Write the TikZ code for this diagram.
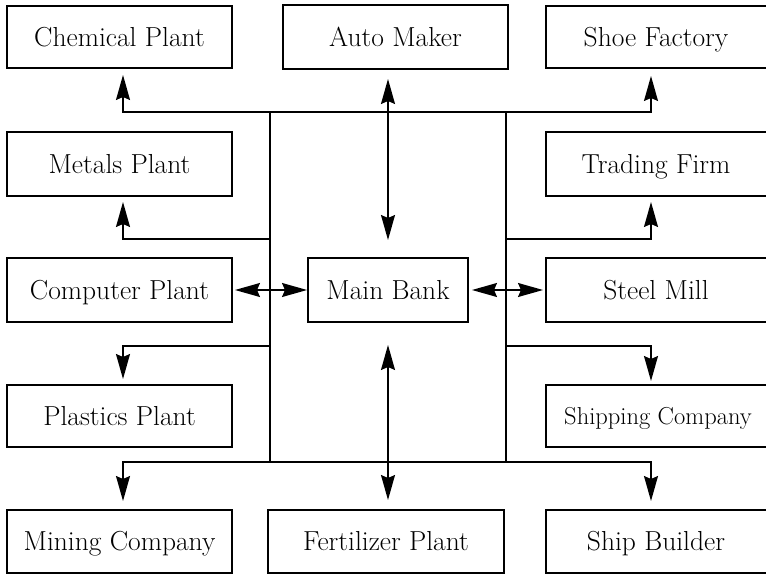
\documentclass[tikz,border=0pt]{standalone}
\usetikzlibrary{arrows.meta}
\begin{document}
\begin{tikzpicture}[x=1pt,y=-1pt,
  box/.style={draw,line width=1.5pt,inner sep=0pt,outer sep=0pt,font=\fontsize{27.5}{32}\selectfont,text height=18.5pt,text depth=0pt},
  lbl/.style={inner sep=0pt,font=\fontsize{27.5}{32}\selectfont,text height=18.5pt,text depth=0pt},
  ln/.style={line width=1.5pt},
  tip/.tip={Stealth[length=25pt,width=14pt,inset=3pt]},
  arr/.style={line width=1.5pt,-tip},
  darr/.style={line width=1.5pt,tip-tip}]
\useasboundingbox (0,0) rectangle (766,575);
% boxes
\node[box,minimum width=225pt,minimum height=62pt] (chem) at (119.5,37) {Chemical Plant};
\node[box,minimum width=225pt,minimum height=64pt] (auto) at (395.5,37) {Auto Maker};
\node[box,minimum width=230pt,minimum height=62pt] (shoe) at (661,37) {};
\node[lbl] (shoet) at (656,37) {Shoe Factory};
\node[box,minimum width=225pt,minimum height=64pt] (metal) at (119.5,164) {Metals Plant};
\node[box,minimum width=230pt,minimum height=64pt] (trade) at (661,164) {};
\node[lbl] (tradet) at (656,164) {Trading Firm};
\node[box,minimum width=225pt,minimum height=64pt] (comp) at (119.5,290) {Computer Plant};
\node[box,minimum width=160pt,minimum height=64pt] (bank) at (388,290) {Main Bank};
\node[box,minimum width=230pt,minimum height=64pt] (steel) at (661,290) {};
\node[lbl] (steelt) at (656,290) {Steel Mill};
\node[box,minimum width=225pt,minimum height=62pt] (plas) at (119.5,416) {Plastics Plant};
\node[box,minimum width=230pt,minimum height=62pt] (ship) at (661,416) {};
\node[lbl,font=\fontsize{24.5}{28}\selectfont,text height=16.5pt] (shipt) at (658,416) {Shipping Company};
\node[box,minimum width=225pt,minimum height=63pt] (mine) at (119.5,541.5) {Mining Company};
\node[box,minimum width=236pt,minimum height=63pt] (fert) at (386,541.5) {Fertilizer Plant};
\node[box,minimum width=230pt,minimum height=63pt] (build) at (661,541.5) {};
\node[lbl] (buildt) at (656,541.5) {Ship Builder};
% bus
\coordinate (TL) at (270,112);
\coordinate (TR) at (506,112);
\coordinate (BL) at (270,462);
\coordinate (BR) at (506,462);
\coordinate (ML1) at (270,239);
\coordinate (MR1) at (506,239);
\coordinate (ML2) at (270,346);
\coordinate (MR2) at (506,346);
\draw[ln] (TL) -- (BL);
\draw[ln] (TR) -- (BR);
\draw[ln] (TL) -- (TR);
\draw[ln] (BL) -- (BR);
\draw[arr,shorten >=7pt] (TL) -| ([xshift=3.5pt]chem.south);
\draw[arr,shorten >=8pt] (TR) -| ([xshift=-10pt]shoe.south);
\draw[arr,shorten >=6pt] (ML1) -| ([xshift=3.5pt]metal.south);
\draw[arr,shorten >=6pt] (MR1) -| ([xshift=-10pt]trade.south);
\draw[arr,shorten >=6pt] (ML2) -| ([xshift=3.5pt]plas.north);
\draw[arr,shorten >=4pt] (MR2) -| ([xshift=-10pt]ship.north);
\draw[arr,shorten >=9pt] (BL) -| ([xshift=3.5pt]mine.north);
\draw[arr,shorten >=9pt] (BR) -| ([xshift=-10pt]build.north);
% bank links
\draw[darr,shorten <=10pt,shorten >=18pt] (bank.north |- auto.south) -- (bank.north);
\draw[darr,shorten <=23pt,shorten >=10pt] (bank.south) -- (bank.south |- fert.north);
\draw[darr,shorten <=3pt,shorten >=1pt] (comp.east) -- (bank.west);
\draw[darr,shorten <=4pt,shorten >=3pt] (bank.east) -- (steel.west);
\end{tikzpicture}
\end{document}
